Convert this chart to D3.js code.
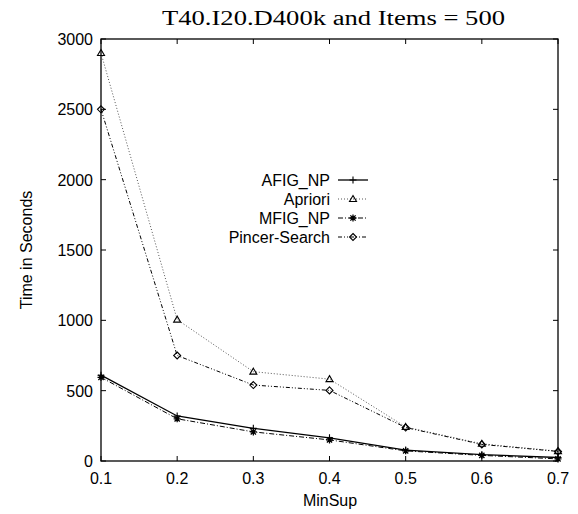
<!DOCTYPE html>
<html><head><meta charset="utf-8">
<script src="https://cdn.jsdelivr.net/npm/d3@7"></script>
<style>body{margin:0;background:#fff}</style>
</head><body>
<svg id="c" width="578" height="514"></svg>
<script>
const minSup = [0.1,0.2,0.3,0.4,0.5,0.6,0.7];
const afigNP = [610,320,232,165,78,45,25];
const apriori = [2900,1005,635,582,242,122,70];
const mfigNP = [595,300,207,150,72,40,15];
const pincer = [2500,750,540,502,238,118,68];
const xTicks = [0.1,0.2,0.3,0.4,0.5,0.6,0.7];
const yTicks = [0,500,1000,1500,2000,2500,3000];
const seriesNames = ["AFIG_NP","Apriori","MFIG_NP","Pincer-Search"];

const svg = d3.select("#c");
const L=101,R=558,T=39,B=461;
const x = d3.scaleLinear().domain([0.1,0.7]).range([L,R]);
const y = d3.scaleLinear().domain([0,3000]).range([B,T]);
const font = "Liberation Sans, Arial, sans-serif";
const fs = 16;

// ticks (mirrored, inside)
const tl=5;
const g = svg.append("g").attr("stroke","#000").attr("stroke-width",1);
xTicks.forEach(v=>{
  g.append("line").attr("x1",x(v)).attr("x2",x(v)).attr("y1",B).attr("y2",B-tl);
  g.append("line").attr("x1",x(v)).attr("x2",x(v)).attr("y1",T).attr("y2",T+tl);
});
yTicks.forEach(v=>{
  g.append("line").attr("x1",L).attr("x2",L+tl).attr("y1",y(v)).attr("y2",y(v));
  g.append("line").attr("x1",R).attr("x2",R-tl).attr("y1",y(v)).attr("y2",y(v));
});
svg.append("rect").attr("x",L).attr("y",T).attr("width",R-L).attr("height",B-T)
  .attr("fill","none").attr("stroke","#000").attr("stroke-width",1.3);

// tick labels
xTicks.forEach(v=>{
  svg.append("text").attr("x",x(v)).attr("y",B+23).attr("text-anchor","middle")
    .attr("font-family",font).attr("font-size",fs).text(d3.format(".1f")(v));
});
yTicks.forEach(v=>{
  svg.append("text").attr("x",L-8).attr("y",y(v)+6).attr("text-anchor","end")
    .attr("font-family",font).attr("font-size",fs).text(v);
});
svg.append("text").attr("x",330).attr("y",506).attr("text-anchor","middle")
  .attr("font-family",font).attr("font-size",fs).text("MinSup");
svg.append("text").attr("transform","translate(32,250) rotate(-90)").attr("text-anchor","middle")
  .attr("font-family",font).attr("font-size",fs).text("Time in Seconds");
svg.append("text").attr("x",162).attr("y",25)
  .attr("font-family","Liberation Serif, DejaVu Serif, serif").attr("font-size",20)
  .attr("textLength",343).attr("lengthAdjust","spacingAndGlyphs")
  .text("T40.I20.D400k and Items = 500");

const series = [
  {name:seriesNames[0], vals:afigNP, dash:null, color:"#000", w:1.3, marker:"plus"},
  {name:seriesNames[1], vals:apriori, dash:"1,2", color:"#555", w:1, marker:"tri"},
  {name:seriesNames[2], vals:mfigNP, dash:"5,2,1,2", color:"#000", w:1, marker:"star"},
  {name:seriesNames[3], vals:pincer, dash:"4,2,1,2,1,2", color:"#000", w:1, marker:"diamond"}
];
function marker(sel, type, cx, cy){
  const s=3.5;
  const m = sel.append("g").attr("stroke","#000").attr("fill","none").attr("stroke-width",1.1);
  if(type==="plus"){
    m.append("path").attr("d",`M${cx-s},${cy}H${cx+s}M${cx},${cy-s}V${cy+s}`);
  } else if(type==="tri"){
    m.append("path").attr("d",`M${cx},${cy-s}L${cx+s},${cy+s*0.7}L${cx-s},${cy+s*0.7}Z`);
  } else if(type==="star"){
    m.append("path").attr("d",`M${cx-s},${cy}H${cx+s}M${cx},${cy-s}V${cy+s}M${cx-s*0.75},${cy-s*0.75}L${cx+s*0.75},${cy+s*0.75}M${cx-s*0.75},${cy+s*0.75}L${cx+s*0.75},${cy-s*0.75}`).attr("stroke-width",1.3);
  } else {
    m.append("path").attr("d",`M${cx},${cy-s}L${cx+s},${cy}L${cx},${cy+s}L${cx-s},${cy}Z`);
  }
}
const line = d3.line().x((d,i)=>x(minSup[i])).y(d=>y(d));
series.forEach(s=>{
  svg.append("path").datum(s.vals).attr("d",line).attr("fill","none")
    .attr("stroke",s.color).attr("stroke-width",s.w).attr("stroke-dasharray",s.dash);
  s.vals.forEach((v,i)=>marker(svg,s.marker,x(minSup[i]),y(v)));
});
// legend
series.forEach((s,i)=>{
  const ly = 180+i*19;
  svg.append("text").attr("x",330).attr("y",ly+6).attr("text-anchor","end")
    .attr("font-family",font).attr("font-size",fs).text(s.name);
  svg.append("line").attr("x1",338).attr("x2",368).attr("y1",ly).attr("y2",ly)
    .attr("stroke",s.color).attr("stroke-width",s.w).attr("stroke-dasharray",s.dash);
  marker(svg,s.marker,353,ly);
});
</script>
</body></html>
